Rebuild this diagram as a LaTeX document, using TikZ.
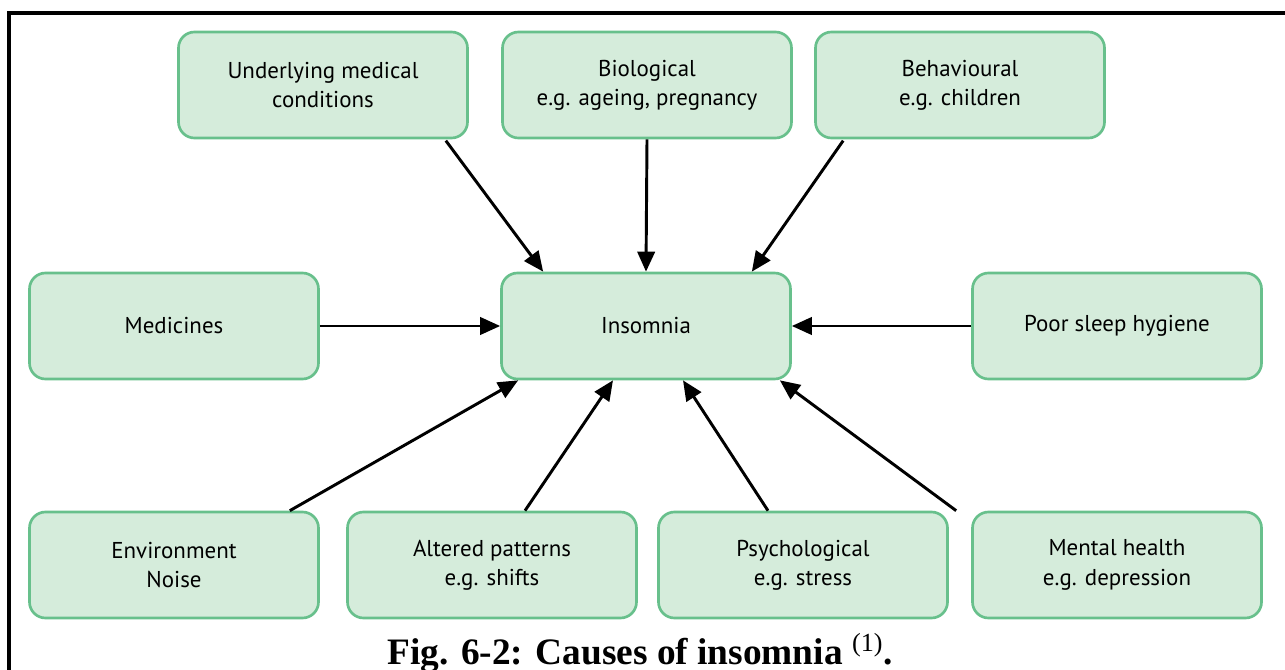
\documentclass[tikz,border=0pt]{standalone}
\usepackage{fontspec}
\setmainfont{Liberation Serif}
\newfontfamily\boxfont{PT Sans}
\usetikzlibrary{arrows.meta}
\definecolor{boxfill}{RGB}{213,236,219}
\definecolor{boxedge}{RGB}{104,192,140}
\tikzset{
  cause/.style={draw=boxedge, fill=boxfill, line width=2pt, rounded corners=12pt,
    minimum width=289*0.75pt, minimum height=106*0.75pt, inner sep=0pt,
    align=center, font=\boxfont\fontsize{17.2}{22}\selectfont, text=black},
  arr/.style={draw=black, line width=2.2pt, -{Triangle[length=15pt,width=13pt]}},
}
\begin{document}
\begin{tikzpicture}[x=0.75pt,y=-0.75pt]
\useasboundingbox (0,0) rectangle (1285,670);
\draw[line width=2.4pt] (9,670) -- (9,13) -- (1285,13);
% top row
\node[cause] (umc) at (323,85) {Underlying medical\\conditions};
\node[cause] (bio) at (647,85) {Biological\\e.g. ageing, pregnancy};
\node[cause] (beh) at (960,85) {Behavioural\\e.g. children};
% middle row
\node[cause] (med) at (174,326) {Medicines};
\node[cause] (ins) at (646,326) {Insomnia};
\node[cause] (psh) at (1117,326) {Poor sleep hygiene};
% bottom row
\node[cause] (env) at (174,565) {Environment\\Noise};
\node[cause] (alt) at (492,565) {Altered patterns\\e.g. shifts};
\node[cause] (psy) at (803,565) {Psychological\\e.g. stress};
\node[cause] (men) at (1117,565) {Mental health\\e.g. depression};
% arrows
\draw[arr] ([xshift=-23*0.75pt,yshift=-1pt]umc.south east) -- ([xshift=43*0.75pt]ins.north west);
\draw[arr] (bio.south) -- (ins.north);
\draw[arr] ([xshift=29*0.75pt,yshift=-1pt]beh.south west) -- ([xshift=-40*0.75pt]ins.north east);
\draw[arr] (med.east) -- (ins.west);
\draw[arr] (psh.west) -- (ins.east);
\draw[arr] ([xshift=-30*0.75pt]env.north east) -- ([xshift=18*0.75pt]ins.south west);
\draw[arr] ([xshift=33*0.75pt]alt.north) -- ([xshift=-33*0.75pt]ins.south);
\draw[arr] ([xshift=-35*0.75pt]psy.north) -- ([xshift=37*0.75pt]ins.south);
\draw[arr] ([xshift=-15*0.75pt]men.north west) -- ([xshift=-12*0.75pt]ins.south east);
% caption
\node[font=\bfseries\fontsize{28}{32}\selectfont, anchor=base] (cap) at (640,664)
  {Fig. 6-2: Causes of insomnia \textsuperscript{\mdseries(1)}.};
\end{tikzpicture}
\end{document}
